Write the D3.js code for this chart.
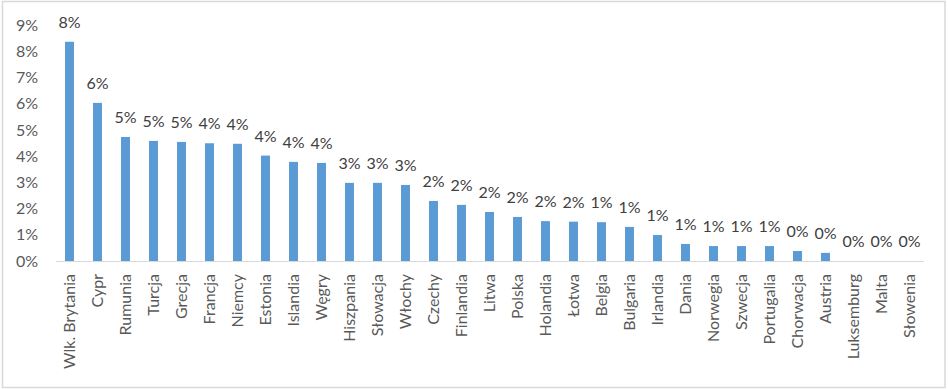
<!DOCTYPE html>
<html><head><meta charset="utf-8">
<script src="https://cdn.jsdelivr.net/npm/d3@7"></script>
<style>html,body{margin:0;padding:0;background:#fff;}svg{display:block;font-family:Lato,"Open Sans",sans-serif;}</style>
</head><body>
<svg id="c" width="948" height="389"></svg>
<script>
const categories = ["Wlk. Brytania","Cypr","Rumunia","Turcja","Grecja","Francja","Niemcy","Estonia","Islandia","Węgry","Hiszpania","Słowacja","Włochy","Czechy","Finlandia","Litwa","Polska","Holandia","Łotwa","Belgia","Bulgaria","Irlandia","Dania","Norwegia","Szwecja","Portugalia","Chorwacja","Austria","Luksemburg","Malta","Słowenia"];
const values = [8.36,6.03,4.73,4.58,4.54,4.49,4.47,4.02,3.78,3.74,2.98,2.98,2.90,2.29,2.14,1.87,1.68,1.52,1.50,1.48,1.30,0.99,0.65,0.57,0.57,0.57,0.38,0.31,0,0,0];
const yTicks = [0,1,2,3,4,5,6,7,8,9];

const svg = d3.select("#c");
svg.append("rect").attr("x",2.5).attr("y",1.5).attr("width",942.5).attr("height",386)
  .attr("fill","#fff").attr("stroke","#d9d9d9").attr("stroke-width",1.5);

const x = d3.scaleBand().domain(categories).range([55.5,923.5]).paddingInner(0.68).paddingOuter(0.34);
const y = d3.scaleLinear().domain([0,9]).range([261,25]);

// y axis labels
const ya = svg.append("g").attr("transform","translate(55,0)")
  .call(d3.axisLeft(y).tickValues(yTicks).tickFormat(d=>d+"%").tickSize(0).tickPadding(17));
ya.select(".domain").remove();
ya.selectAll("text").attr("font-size",16).attr("fill","#595959").attr("font-family","Lato,sans-serif");

// bars
svg.append("g").selectAll("rect").data(values).join("rect")
  .attr("x",(d,i)=>x(categories[i])).attr("width",x.bandwidth())
  .attr("y",d=>y(d)).attr("height",d=>y(0)-y(d)).attr("fill","#5b9bd5");

// x axis
const xa = svg.append("g").attr("transform","translate(0,261)")
  .call(d3.axisBottom(x).tickSize(0).tickPadding(0));
xa.select(".domain").attr("stroke","#d9d9d9").attr("stroke-width",1);
xa.selectAll("text").attr("font-size",16).attr("fill","#595959").attr("font-family","Lato,sans-serif")
  .attr("text-anchor","end").attr("dy","0.35em").attr("dx",0)
  .attr("transform","translate(0,13) rotate(-90)").attr("y",0).attr("x",0);

// data labels
svg.append("g").selectAll("text").data(values).join("text")
  .attr("x",(d,i)=>x(categories[i])+x.bandwidth()/2).attr("y",d=>y(d)-14)
  .attr("text-anchor","middle").attr("font-size",16).attr("fill","#404040")
  .text(d=>Math.round(d)+"%");
</script>
</body></html>
